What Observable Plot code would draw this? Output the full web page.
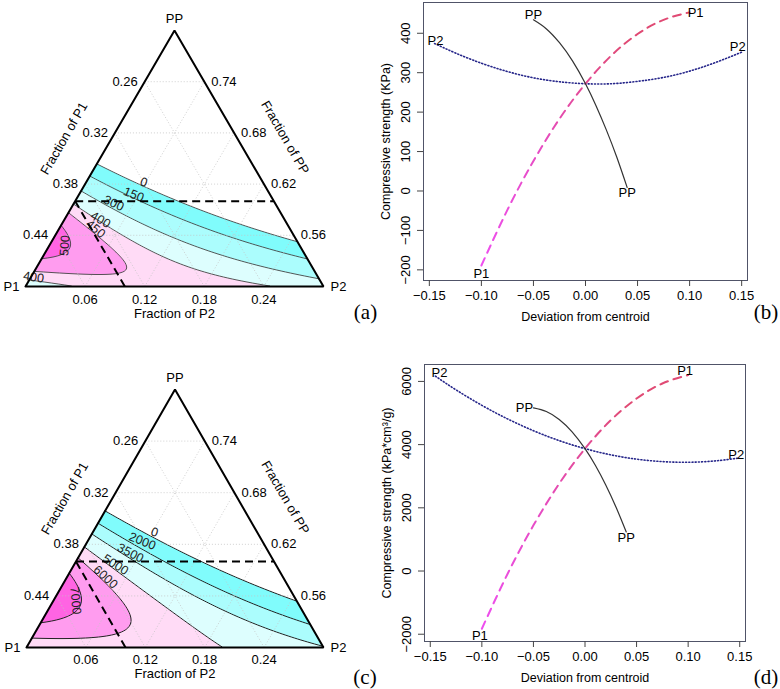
<!DOCTYPE html>
<html><head><meta charset="utf-8">
<script src="https://cdn.jsdelivr.net/npm/d3@7"></script>
<script src="https://cdn.jsdelivr.net/npm/@observablehq/plot@0.6"></script>
<style>
body{margin:0;background:#fff;}
#wrap{position:relative;width:780px;height:689px;overflow:hidden;background:#fff;font-family:"Liberation Sans",Arial,Helvetica,sans-serif;}
.panel{position:absolute;}
.tag{position:absolute;font-family:"Liberation Serif","Times New Roman",serif;font-size:21px;transform:translate(-50%,-50%);white-space:nowrap;}
</style></head><body>
<div id="wrap"></div>
<script>
// ================= DATA =================
// Ternary (pseudo-component) grid and tick labels
const ternGrid = [0.2, 0.4, 0.6, 0.8];
const p1TickLabels = ["0.44", "0.38", "0.32", "0.26"];
const ppTickLabels = ["0.56", "0.62", "0.68", "0.74"];
const p2TickLabels = ["0.06", "0.12", "0.18", "0.24"];
// constraint lines (pseudo units): PP <= 0.60 , P1 <= 0.40
const ppMaxPseudo = 1 / 3;
const p1MaxPseudo = 2 / 3;
// Scheffé quadratic model coefficients estimated from the figure
// order: [P1, PP, P2, P1*PP, P1*P2, PP*P2] (pseudo components)
const coefA = [354, -3317, 352, 5626, 338, 2007];
const coefC = [5154, -36059, 3578, 66887, 3969, 24023];
const levelsA = [0, 150, 300, 400, 450, 500];
const levelsC = [0, 2000, 3500, 5000, 6000, 7000];
const bandColors = ["#ffffff", "#80fcfc", "#abfdfd", "#ddfefe", "#ffdbf6", "#ff9cef", "#ff64e3"];
// contour label annotations (triangle units)
const contourLabelsA = [
  {v: "0", x: 0.397, y: 0.407, r: 18}, {v: "150", x: 0.363, y: 0.359, r: 22},
  {v: "300", x: 0.296, y: 0.325, r: 25}, {v: "400", x: 0.252, y: 0.261, r: 30},
  {v: "450", x: 0.235, y: 0.225, r: 40}, {v: "500", x: 0.132, y: 0.160, r: -85},
  {v: "400", x: 0.027, y: 0.036, r: 8}
];
const contourLabelsC = [
  {v: "0", x: 0.431, y: 0.447, r: 18}, {v: "2000", x: 0.390, y: 0.412, r: 22},
  {v: "3500", x: 0.350, y: 0.366, r: 27}, {v: "5000", x: 0.300, y: 0.321, r: 32},
  {v: "6000", x: 0.266, y: 0.273, r: 42}, {v: "7000", x: 0.165, y: 0.182, r: 85}
];

// Trace (Cox direction) data
const devTicks = [-0.15, -0.1, -0.05, 0, 0.05, 0.1, 0.15];
const yTicksB = [-200, -100, 0, 100, 200, 300, 400];
const yTicksD = [-2000, 0, 2000, 4000, 6000];
const devP1 = [-0.1, -0.075, -0.05, -0.025, 0, 0.025, 0.05, 0.075, 0.1];
const devPP = [-0.05, -0.0375, -0.025, -0.0125, 0, 0.01, 0.02, 0.03, 0.04];
const devP2 = [-0.145, -0.125, -0.1, -0.075, -0.05, -0.025, 0, 0.025, 0.05, 0.075, 0.1, 0.125, 0.15];
const strengthP1_b = [-189, -48, 76, 183, 272, 344, 398, 434, 453];
const strengthPP_b = [434, 411, 376, 330, 272, 217, 155, 86, 9];
const strengthP2_b = [374, 350, 324, 303, 287, 277, 272, 272, 278, 288, 304, 326, 352];
const strengthP1_d = [-1827, -86, 1445, 2764, 3873, 4771, 5458, 5934, 6200];
const strengthPP_d = [5161, 5048, 4796, 4404, 3873, 3347, 2733, 2028, 1235];
const strengthP2_d = [6166, 5732, 5243, 4812, 4441, 4127, 3873, 3677, 3540, 3462, 3442, 3481, 3578];

// ================= HELPERS =================
const FONT = "'Liberation Sans', Arial, Helvetica, sans-serif";
const wrap = document.getElementById("wrap");
function place(node, left, top, w, h) {
  const d = document.createElement("div");
  d.className = "panel";
  d.style.left = left + "px"; d.style.top = top + "px";
  d.style.width = w + "px"; d.style.height = h + "px";
  d.appendChild(node);
  wrap.appendChild(d);
}
function tag(text, cx, cy) {
  const s = document.createElement("div");
  s.className = "tag"; s.textContent = text;
  s.style.left = cx + "px"; s.style.top = cy + "px";
  wrap.appendChild(s);
}

function ternaryPlot(cfg) {
  const {coef, levels, labels, width, height, mL, mR, mT, mB, lineColor, lineWidth, tickDy} = cfg;
  const f = (x, y) => {
    const b = y, c = x - y / 2, a = 1 - b - c;
    return coef[0] * a + coef[1] * b + coef[2] * c + coef[3] * a * b + coef[4] * a * c + coef[5] * b * c;
  };
  const verts = [{n: "P1", x: 0, y: 0}, {n: "P2", x: 1, y: 0}, {n: "PP", x: 0.5, y: 1}];
  const outline = [verts[0], verts[1], verts[2], verts[0]];
  const maskL = [{x: -0.03, y: 0}, {x: 0, y: 0}, {x: 0.5, y: 1}];
  const maskR = [{x: 0.5, y: 1}, {x: 1, y: 0}, {x: 1.03, y: 0}];
  const grid = [];
  for (const k of ternGrid) {
    grid.push({x1: k / 2, y1: k, x2: 1 - k / 2, y2: k});               // constant PP
    grid.push({x1: 1 - k, y1: 0, x2: (1 - k) / 2, y2: 1 - k});         // constant P1
    grid.push({x1: k, y1: 0, x2: k + (1 - k) / 2, y2: 1 - k});         // constant P2
  }
  const dashed = [
    {x1: ppMaxPseudo / 2, y1: ppMaxPseudo, x2: 1 - ppMaxPseudo / 2, y2: ppMaxPseudo},
    {x1: 1 - p1MaxPseudo, y1: 0, x2: (1 - p1MaxPseudo) / 2, y2: 1 - p1MaxPseudo}
  ];
  const ext = {x1: 0, y1: 0, x2: 1, y2: 1, thresholds: levels, pixelSize: 1};
  return Plot.plot({
    width, height, marginLeft: mL, marginRight: mR, marginTop: mT, marginBottom: mB,
    x: {domain: [0, 1], axis: null}, y: {domain: [0, 1], axis: null},
    color: {type: "threshold", domain: levels, range: bandColors},
    style: {background: "transparent", overflow: "visible", fontFamily: FONT, fontSize: "13px", color: "#000"},
    marks: [
      Plot.contour({...ext, fill: f, stroke: "none"}),
      Plot.contour({...ext, value: f, fill: "none", stroke: lineColor, strokeWidth: lineWidth}),
      Plot.areaY(maskL, {x: "x", y1: "y", y2: 1.03, fill: "white", curve: "linear"}),
      Plot.areaY(maskR, {x: "x", y1: "y", y2: 1.03, fill: "white", curve: "linear"}),
      Plot.link(grid, {x1: "x1", y1: "y1", x2: "x2", y2: "y2", stroke: "#c4c4c4", strokeWidth: 0.8, strokeDasharray: "1,2"}),
      Plot.text(labels, {x: "x", y: "y", text: "v", rotate: "r", fontSize: 12.5, fill: "#222"}),
      Plot.link(dashed, {x1: "x1", y1: "y1", x2: "x2", y2: "y2", stroke: "#000", strokeWidth: 2, strokeDasharray: "8,5"}),
      Plot.line(outline, {x: "x", y: "y", stroke: "#000", strokeWidth: 2, strokeLinejoin: "miter"}),
      Plot.text([verts[0]], {x: "x", y: "y", text: "n", textAnchor: "end", dx: -6}),
      Plot.text([verts[1]], {x: "x", y: "y", text: "n", textAnchor: "start", dx: 7}),
      Plot.text([verts[2]], {x: "x", y: "y", text: "n", dy: -12}),
      Plot.text(ternGrid, {x: k => k / 2, y: k => k, text: (k, i) => p1TickLabels[i], textAnchor: "end", dx: -7}),
      Plot.text(ternGrid, {x: k => 1 - k / 2, y: k => k, text: (k, i) => ppTickLabels[i], textAnchor: "start", dx: 7}),
      Plot.text(ternGrid, {x: k => k, y: 0, text: (k, i) => p2TickLabels[i], dy: tickDy - 1}),
      Plot.text(["Fraction of P1"], {x: 0.25, y: 0.5, text: d => d, rotate: -60, dx: -36, dy: -20}),
      Plot.text(["Fraction of PP"], {x: 0.75, y: 0.5, text: d => d, rotate: 60, dx: 36, dy: -21}),
      Plot.text(["Fraction of P2"], {x: 0.5, y: 0, text: d => d, dy: tickDy + 13})
    ]
  });
}

function tracePlot(cfg) {
  const {p1, pp, p2, yDomain, yTicks, yTitle, width, height, mL, mR, mT, mB, gradId, off} = cfg;
  const mk = (dev, val) => dev.map((d, i) => ({dev: d, val: val[i]}));
  const s1 = mk(devP1, p1), s2 = mk(devPP, pp), s3 = mk(devP2, p2);
  const ends = [
    [s1[0], "P1", off[0]], [s1[s1.length - 1], "P1", off[1]],
    [s2[0], "PP", off[2]], [s2[s2.length - 1], "PP", off[3]],
    [s3[0], "P2", off[4]], [s3[s3.length - 1], "P2", off[5]]
  ];
  const svg = Plot.plot({
    width, height, marginLeft: mL, marginRight: mR, marginTop: mT, marginBottom: mB,
    x: {domain: [-0.1556, 0.1556]}, y: {domain: yDomain},
    style: {background: "transparent", overflow: "visible", fontFamily: FONT, fontSize: "13px", color: "#000"},
    marks: [
      Plot.frame({stroke: "#505468", strokeWidth: 1}),
      Plot.axisX({ticks: devTicks, tickFormat: d3.format(".2f"), tickSize: 6, tickPadding: 4, label: null, fontSize: 13, stroke: "#444"}),
      Plot.axisY({ticks: yTicks, tickFormat: () => "", tickSize: 6, label: null, stroke: "#444"}),
      Plot.text(yTicks, {y: d => d, frameAnchor: "left", dx: -18, rotate: -90, textAnchor: "middle", lineAnchor: "middle",
        text: d => d3.format("d")(d), fontSize: 13}),
      Plot.text([yTitle], {frameAnchor: "left", dx: -38, rotate: -90, textAnchor: "middle", lineAnchor: "middle",
        text: d => d, fontSize: 12.5}),
      Plot.text(["Deviation from centroid"], {frameAnchor: "bottom", dy: 36, textAnchor: "middle", lineAnchor: "middle",
        text: d => d, fontSize: 12.5}),
      Plot.line(s3, {x: "dev", y: "val", stroke: "#26268a", strokeWidth: 1.6, strokeDasharray: "1,2.2", curve: "natural"}),
      Plot.line(s1, {x: "dev", y: "val", stroke: `url(#${gradId})`, strokeWidth: 2, strokeDasharray: "8,6", curve: "natural"}),
      Plot.line(s2, {x: "dev", y: "val", stroke: "#333", strokeWidth: 1.2, curve: "natural"}),
      ...ends.map(([pt, lab, o]) => Plot.text([pt], {x: "dev", y: "val", text: () => lab, dx: o[0], dy: o[1], fontSize: 13}))
    ]
  });
  const ns = "http://www.w3.org/2000/svg";
  const defs = document.createElementNS(ns, "defs");
  defs.innerHTML = `<linearGradient id="${gradId}" x1="0" y1="1" x2="0.4" y2="0">
    <stop offset="0" stop-color="#ee4ff0"/><stop offset="0.5" stop-color="#e64cc2"/><stop offset="1" stop-color="#e04a74"/></linearGradient>`;
  svg.insertBefore(defs, svg.firstChild);
  return svg;
}

// ================= BUILD =================
place(ternaryPlot({coef: coefA, levels: levelsA, labels: contourLabelsA, width: 345, height: 330,
  mL: 25, mR: 22, mT: 30, mB: 44, lineColor: "#444", lineWidth: 0.9, tickDy: 14}), 0, 0, 345, 330);
place(ternaryPlot({coef: coefC, levels: levelsC, labels: contourLabelsC, width: 345, height: 349,
  mL: 26, mR: 22, mT: 49, mB: 42, lineColor: "#222", lineWidth: 1, tickDy: 13}), 0, 340, 345, 349);

place(tracePlot({p1: strengthP1_b, pp: strengthPP_b, p2: strengthP2_b, yDomain: [-227, 478], yTicks: yTicksB,
  yTitle: "Compressive strength (KPa)", width: 440, height: 330, mL: 83, mR: 33, mT: 2, mB: 50, gradId: "gP1b",
  off: [[0, 8.5], [6, 0], [0, -5], [0, 5], [1, -3], [-4, -5]]}), 340, 0, 440, 330);
place(tracePlot({p1: strengthP1_d, pp: strengthPP_d, p2: strengthP2_d, yDomain: [-2230, 6535], yTicks: yTicksD,
  yTitle: "Compressive strength (kPa*cm³/g)", width: 440, height: 349, mL: 84, mR: 35, mT: 24, mB: 48, gradId: "gP1d",
  off: [[-2, 7], [-3, -4], [-9, 0], [0, 6], [4, -3], [-3.5, -3]]}), 340, 340, 440, 349);

tag("(a)", 365.5, 312);
tag("(b)", 766, 312);
tag("(c)", 365, 677);
tag("(d)", 766, 677);
</script>
</body></html>
